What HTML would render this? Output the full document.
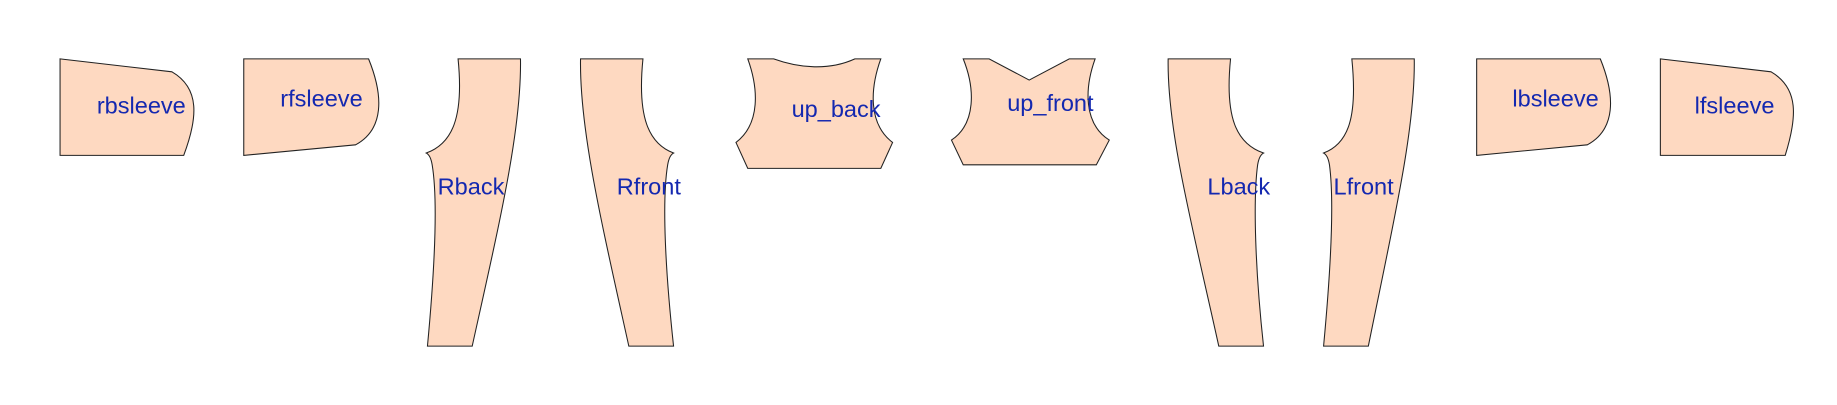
<!DOCTYPE html>
<html><head><meta charset="utf-8"><style>
html,body{margin:0;padding:0;background:#fff;width:1837px;height:405px;overflow:hidden}
svg{display:block}
text{font-family:"Liberation Sans",sans-serif;font-size:20px;fill:#1428b0;text-anchor:middle;dominant-baseline:middle}
path{fill:#fed9c1;stroke:#222;stroke-width:0.9}
</style></head><body>
<svg width="1837" height="405" viewBox="0 0 1560 344" preserveAspectRatio="none">
<g>
<path d="M51,50 L146,61 C170,75 168,100 156,132 L51,132 Z"/>
<text x="120" y="91">rbsleeve</text></g>
<g>
<path d="M207,50 L313,50 C326,82 326,110 302,123 L207,132 Z"/>
<text x="273" y="85">rfsleeve</text></g>
<g>
<path d="M389,50 L442,50 C443,110 424,190 401,294 L363,294 C369,230 372,170 367,140 C366,134 364,131 362,130 C384,122 394,100 389,50 Z"/>
<text x="400" y="160">Rback</text></g>
<g>
<path d="M493,50 L546,50 C541,100 551,122 572,130 C570,131 568,134 567,140 C562,170 565,230 572,294 L534,294 C511,190 492,110 493,50 Z"/>
<text x="551" y="160">Rfront</text></g>
<g>
<path d="M635,50 L657,50 C679,58 704,60 726,50 L748,50 C739,75 737,105 758,121 L748,143 L635,143 L625,121 C646,105 644,75 635,50 Z"/>
<text x="710" y="94">up_back</text></g>
<g>
<path d="M818,50 L840,50 L874,68 L908,50 L930,50 C921,75 920,105 942,119 L931,140 L818,140 L808,119 C829,105 828,75 818,50 Z"/>
<text x="892" y="89">up_front</text></g>
<g>
<path d="M992,50 L1045,50 C1040,100 1050,122 1073,130 C1071,131 1069,134 1068,140 C1064,170 1066,230 1073,294 L1035,294 C1012,190 991,110 992,50 Z"/>
<text x="1052" y="160">Lback</text></g>
<g>
<path d="M1148,50 L1201,50 C1202,110 1183,190 1162,294 L1124,294 C1130,230 1133,170 1129,140 C1128,134 1126,131 1124,130 C1145,122 1153,100 1148,50 Z"/>
<text x="1158" y="160">Lfront</text></g>
<g>
<path d="M1254,50 L1359,50 C1372,82 1372,110 1348,123 L1254,132 Z"/>
<text x="1321" y="85">lbsleeve</text></g>
<g>
<path d="M1410,50 L1504,61 C1528,75 1526,100 1516,132 L1410,132 Z"/>
<text x="1473" y="91">lfsleeve</text></g>
</svg>
</body></html>
